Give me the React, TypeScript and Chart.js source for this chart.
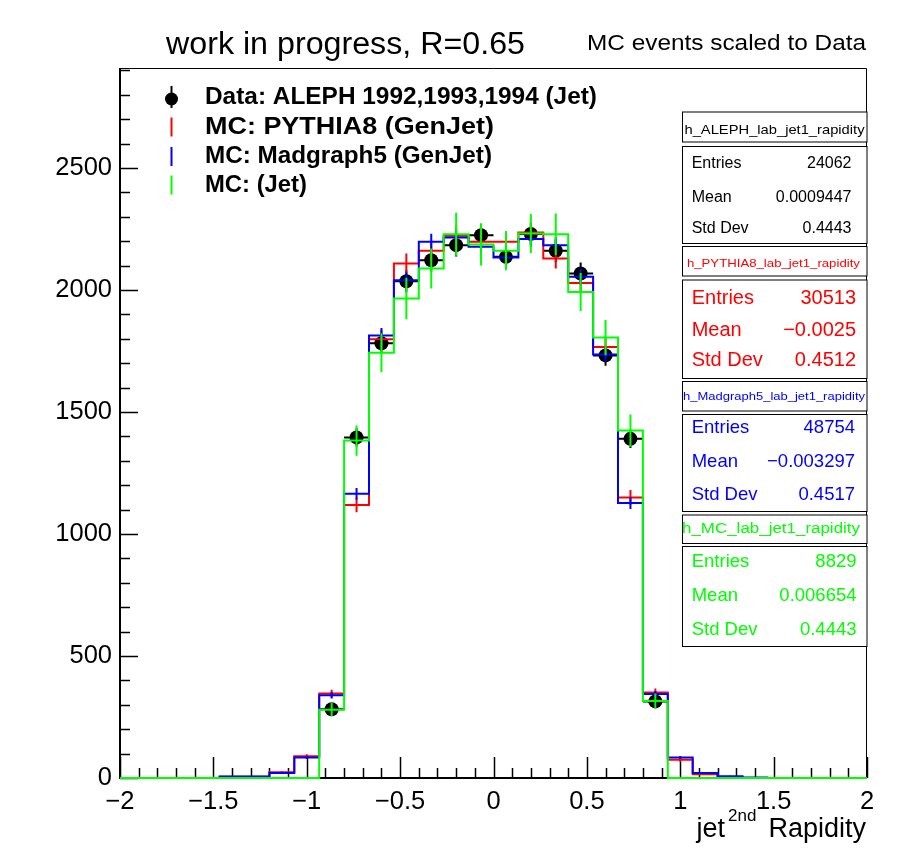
import React, { useEffect, useRef } from 'react';
import { Chart, registerables } from 'chart.js';

Chart.register(...registerables);

// ---------------- data ----------------
const X_MIN = -2;
const X_MAX = 2;
const N_BINS = 30;
const Y_MAX = 2910;

const X_TICKS = [-2, -1.5, -1, -0.5, 0, 0.5, 1, 1.5, 2];
const Y_TICKS = [0, 500, 1000, 1500, 2000, 2500];

// ALEPH data (bins with no entry are null)
const dataALEPH: (number | null)[] = [
  null, null, null, null, null, null, null, null,
  282, 1396, 1782, 2036, 2122, 2184, 2225, 2136, 2230, 2161, 2068, 1732, 1390, 314,
  null, null, null, null, null, null, null, null,
];
const errALEPH: number[] = [
  0, 0, 0, 0, 0, 0, 0, 0,
  17, 37, 42, 45, 46, 47, 47, 46, 47, 46, 45, 42, 37, 18,
  0, 0, 0, 0, 0, 0, 0, 0,
];

const mcPythia8: number[] = [
  0, 0, 0, 0, 5, 5, 24, 89, 346, 1119, 1798, 2109, 2161, 2222, 2198,
  2198, 2236, 2129, 2029, 1766, 1150, 350, 75, 15, 3, 0, 0, 0, 0, 0,
];
const errPythia8: number[] = [
  0, 0, 0, 0, 2, 2, 4, 8, 16, 30, 38, 41, 41, 42, 42,
  42, 42, 41, 40, 37, 30, 17, 8, 3, 1, 0, 0, 0, 0, 0,
];

const mcMadgraph5: number[] = [
  0, 0, 0, 0, 6, 6, 20, 84, 339, 1165, 1814, 2040, 2198, 2215, 2177,
  2133, 2209, 2184, 2054, 1736, 1127, 344, 84, 20, 7, 2, 0, 0, 0, 0,
];
const errMadgraph5: number[] = [
  0, 0, 0, 0, 2, 2, 3, 6, 13, 24, 30, 32, 33, 33, 33,
  32, 33, 33, 32, 29, 24, 13, 6, 3, 2, 1, 0, 0, 0, 0,
];

const mcJet: number[] = [
  0, 0, 0, 0, 0, 0, 0, 0, 280, 1383, 1743, 1965, 2088, 2229, 2187,
  2161, 2232, 2229, 1992, 1805, 1424, 316, 0, 0, 0, 0, 0, 0, 0, 0,
];
const errJet: number[] = [
  0, 0, 0, 0, 0, 0, 0, 0, 28, 62, 80, 85, 82, 88, 86,
  80, 80, 85, 78, 72, 66, 30, 0, 0, 0, 0, 0, 0, 0, 0,
];

const legendLabels = [
  'Data: ALEPH 1992,1993,1994 (Jet)',
  'MC: PYTHIA8 (GenJet)',
  'MC: Madgraph5 (GenJet)',
  'MC: (Jet)',
];

const statTitles = [
  'h_ALEPH_lab_jet1_rapidity',
  'h_PYTHIA8_lab_jet1_rapidity',
  'h_Madgraph5_lab_jet1_rapidity',
  'h_MC_lab_jet1_rapidity',
];
const statEntries = ['24062', '30513', '48754', '8829'];
const statMeans = ['0.0009447', '\u22120.0025', '\u22120.003297', '0.006654'];
const statStdDevs = ['0.4443', '0.4512', '0.4517', '0.4443'];

const titleText = 'work in progress, R=0.65';
const subTitleText = 'MC events scaled to Data';

// ---------------- style ----------------
const FONT = '"Liberation Sans", Arial, Helvetica, sans-serif';
const RED = '#ff0000';
const BLUE = '#0000ff';
const GREEN = '#00ff00';
const BLACK = '#000000';

const BW = (X_MAX - X_MIN) / N_BINS;

function stepPoints(vals: number[]) {
  const pts: { x: number; y: number }[] = [];
  vals.forEach((v, i) => {
    pts.push({ x: X_MIN + i * BW, y: v });
    pts.push({ x: X_MIN + (i + 1) * BW, y: v });
  });
  return pts;
}

function drawText(
  ctx: CanvasRenderingContext2D,
  text: string,
  x: number,
  y: number,
  size: number,
  opts: { color?: string; bold?: boolean; align?: CanvasTextAlign; width?: number; baseline?: CanvasTextBaseline } = {}
) {
  ctx.save();
  ctx.font = `${opts.bold ? 'bold ' : ''}${size}px ${FONT}`;
  ctx.fillStyle = opts.color || BLACK;
  ctx.textBaseline = opts.baseline || 'middle';
  ctx.textAlign = opts.align || 'left';
  const w = ctx.measureText(text).width;
  const sx = opts.width ? opts.width / w : 1;
  ctx.translate(x, y);
  ctx.scale(sx, 1);
  ctx.fillText(text, 0, 0);
  ctx.restore();
}

const framePlugin = {
  id: 'rootFrame',
  beforeDatasetsDraw(chart: any) {
    const ctx: CanvasRenderingContext2D = chart.ctx;
    const { left, right, top, bottom } = chart.chartArea;
    const xs = chart.scales.x;
    const ys = chart.scales.y;
    ctx.save();
    ctx.strokeStyle = BLACK;
    ctx.lineWidth = 1;
    ctx.beginPath();
    ctx.moveTo(left, top + 0.5);
    ctx.lineTo(right - 0.5, top + 0.5);
    ctx.lineTo(right - 0.5, bottom);
    ctx.stroke();
    ctx.lineWidth = 2;
    ctx.beginPath();
    ctx.moveTo(left, top);
    ctx.lineTo(left, bottom);
    ctx.lineTo(right, bottom);
    ctx.stroke();
    ctx.lineWidth = 1.5;
    ctx.beginPath();
    for (let k = 0; k <= 40; k++) {
      const v = X_MIN + k * 0.1;
      const px = Math.round(xs.getPixelForValue(v)) + 0.5;
      const len = k % 5 === 0 ? 21 : 10;
      ctx.moveTo(px, bottom);
      ctx.lineTo(px, bottom - len);
    }
    for (let v = 0; v <= Y_MAX; v += 100) {
      const py = Math.round(ys.getPixelForValue(v)) + 0.5;
      const len = v % 500 === 0 ? 18 : 10;
      ctx.moveTo(left, py);
      ctx.lineTo(left + len, py);
    }
    ctx.stroke();
    ctx.restore();
  },
  beforeDatasetDraw(chart: any, args: any) {
    const ds = chart.data.datasets[args.index];
    if (ds.kind !== 'data') return;
    const ctx: CanvasRenderingContext2D = chart.ctx;
    const xs = chart.scales.x;
    const ys = chart.scales.y;
    ctx.save();
    ctx.strokeStyle = BLACK;
    ctx.lineWidth = 2;
    ctx.beginPath();
    dataALEPH.forEach((v, i) => {
      if (v === null) return;
      const lo = xs.getPixelForValue(X_MIN + i * BW);
      const hi = xs.getPixelForValue(X_MIN + (i + 1) * BW);
      const cx = xs.getPixelForValue(X_MIN + (i + 0.5) * BW);
      const py = ys.getPixelForValue(v);
      ctx.moveTo(lo, py);
      ctx.lineTo(hi, py);
      ctx.moveTo(cx, ys.getPixelForValue(v - errALEPH[i]));
      ctx.lineTo(cx, ys.getPixelForValue(v + errALEPH[i]));
    });
    ctx.stroke();
    ctx.restore();
  },
  afterDatasetDraw(chart: any, args: any) {
    const ds = chart.data.datasets[args.index];
    if (!ds.errs) return;
    const ctx: CanvasRenderingContext2D = chart.ctx;
    const xs = chart.scales.x;
    const ys = chart.scales.y;
    ctx.save();
    ctx.strokeStyle = ds.borderColor;
    ctx.lineWidth = 2;
    ctx.beginPath();
    (ds.vals as number[]).forEach((v, i) => {
      const e = ds.errs[i];
      if (!e) return;
      const cx = xs.getPixelForValue(X_MIN + (i + 0.5) * BW);
      ctx.moveTo(cx, ys.getPixelForValue(v - e));
      ctx.lineTo(cx, ys.getPixelForValue(v + e));
    });
    ctx.stroke();
    ctx.restore();
  },
  afterDraw(chart: any) {
    const ctx: CanvasRenderingContext2D = chart.ctx;
    drawText(ctx, titleText, 166, 45, 31, { width: 359 });
    drawText(ctx, subTitleText, 587, 44, 22.5, { width: 279 });

    // x axis title
    drawText(ctx, 'Rapidity', 866, 830, 27, { align: 'right' });
    drawText(ctx, '2nd', 728, 816, 17, { align: 'left' });
    drawText(ctx, 'jet', 725, 830, 27, { align: 'right' });

    // legend
    const legY = [97, 127, 156.5, 185];
    const legW = [392, 289, 287, 102];
    const legColors = [BLACK, RED, BLUE, GREEN];
    legendLabels.forEach((t, i) => {
      drawText(ctx, t, 205, legY[i], 24, { bold: true, width: legW[i] });
    });
    ctx.save();
    ctx.lineWidth = 2;
    legColors.forEach((c, i) => {
      ctx.strokeStyle = c;
      ctx.beginPath();
      ctx.moveTo(171.5, legY[i] - (i === 0 ? 11 : 9.5));
      ctx.lineTo(171.5, legY[i] + (i === 0 ? 11 : 9.5));
      ctx.stroke();
    });
    ctx.fillStyle = BLACK;
    ctx.beginPath();
    ctx.arc(171.5, 99, 6.5, 0, Math.PI * 2);
    ctx.fill();
    ctx.restore();

    // stats boxes
    const bx = 682.5;
    const bw = 184.5;
    const boxes = [
      { t0: 112, t1: 142, s0: 146.5, s1: 243.5, color: BLACK, tSize: 13, tW: 180, tCx: 774.5, tCy: 130, size: 16, rows: [163.3, 197.3, 229], right: 851.5 },
      { t0: 246.5, t1: 276, s0: 280, s1: 378.5, color: RED, tSize: 11, tW: 173, tCx: 773.4, tCy: 264, size: 20, rows: [298.3, 330, 360.7], right: 856 },
      { t0: 381.5, t1: 411, s0: 414.5, s1: 511.5, color: BLUE, tSize: 11, tW: 182, tCx: 774, tCy: 396.7, size: 18.5, rows: [428.3, 462.3, 495], right: 855 },
      { t0: 515, t1: 543.5, s0: 546.5, s1: 646.5, color: GREEN, tSize: 14, tW: 178, tCx: 771, tCy: 529, size: 18.5, rows: [562.3, 595.7, 630], right: 856.5 },
    ];
    boxes.forEach((b, i) => {
      ctx.save();
      ctx.fillStyle = '#ffffff';
      ctx.strokeStyle = BLACK;
      ctx.lineWidth = 1;
      ctx.fillRect(bx, b.t0, bw, b.t1 - b.t0);
      ctx.strokeRect(bx, b.t0, bw, b.t1 - b.t0);
      ctx.fillRect(bx, b.s0, bw, b.s1 - b.s0);
      ctx.strokeRect(bx, b.s0, bw, b.s1 - b.s0);
      ctx.restore();
      drawText(ctx, statTitles[i], b.tCx, b.tCy, b.tSize, { color: b.color, align: 'center', width: b.tW });
      const labels = ['Entries', 'Mean', 'Std Dev'];
      const vals = [statEntries[i], statMeans[i], statStdDevs[i]];
      labels.forEach((l, r) => {
        drawText(ctx, l, 691.7, b.rows[r], b.size, { color: b.color });
        drawText(ctx, vals[r], b.right, b.rows[r], b.size, { color: b.color, align: 'right' });
      });
    });
  },
};

function fmtX(v: number) {
  const r = Math.round(v * 10) / 10;
  if (r < 0) return '\u2212' + String(Math.abs(r));
  return String(r);
}

export default function App() {
  const canvasRef = useRef<HTMLCanvasElement | null>(null);

  useEffect(() => {
    document.body.style.margin = '0';
    const canvas = canvasRef.current;
    if (!canvas) return;
    const dataPoints = dataALEPH
      .map((v, i) => (v === null ? null : { x: X_MIN + (i + 0.5) * BW, y: v }))
      .filter((p) => p !== null);

    const lineDs = (label: string, vals: number[], errs: number[], color: string, order: number) => ({
      label,
      data: stepPoints(vals),
      vals,
      errs,
      borderColor: color,
      backgroundColor: color,
      borderWidth: 2,
      pointRadius: 0,
      tension: 0,
      fill: false,
      order,
      clip: false,
    });

    const chart = new Chart(canvas, {
      type: 'line',
      data: {
        datasets: [
          lineDs('MC: (Jet)', mcJet, errJet, GREEN, 0) as any,
          lineDs('MC: Madgraph5 (GenJet)', mcMadgraph5, errMadgraph5, BLUE, 1) as any,
          lineDs('MC: PYTHIA8 (GenJet)', mcPythia8, errPythia8, RED, 2) as any,
          {
            label: 'Data: ALEPH 1992,1993,1994 (Jet)',
            kind: 'data',
            data: dataPoints,
            showLine: false,
            pointRadius: 7,
            pointBackgroundColor: BLACK,
            pointBorderWidth: 0,
            pointBorderColor: BLACK,
            order: 3,
            clip: false,
          } as any,
        ],
      },
      options: {
        animation: false,
        responsive: false,
        events: [],
        layout: { padding: { top: 68, right: 30, left: 0, bottom: 0 } },
        plugins: {
          legend: { display: false },
          title: { display: false },
          tooltip: { enabled: false },
        },
        scales: {
          x: {
            type: 'linear',
            min: X_MIN,
            max: X_MAX,
            grid: { display: false, drawTicks: false },
            border: { display: false },
            ticks: {
              autoSkip: false,
              maxRotation: 0,
              padding: 9,
              color: BLACK,
              font: { family: FONT, size: 25.5 },
              callback: (v: any) => fmtX(Number(v)),
            },
            afterBuildTicks: (s: any) => {
              s.ticks = X_TICKS.map((v) => ({ value: v }));
            },
            afterFit: (s: any) => {
              s.height = 72;
            },
          },
          y: {
            type: 'linear',
            min: 0,
            max: Y_MAX,
            grid: { display: false, drawTicks: false },
            border: { display: false },
            ticks: {
              autoSkip: false,
              padding: 8,
              color: BLACK,
              font: { family: FONT, size: 25.5 },
              callback: (v: any) => String(v),
            },
            afterBuildTicks: (s: any) => {
              s.ticks = Y_TICKS.map((v) => ({ value: v }));
            },
            afterFit: (s: any) => {
              s.width = 120;
            },
          },
        },
      } as any,
      plugins: [framePlugin],
    });
    return () => chart.destroy();
  }, []);

  return (
    <div style={{ width: 897, height: 850, background: '#fff' }}>
      <canvas ref={canvasRef} width={897} height={850} />
    </div>
  );
}
